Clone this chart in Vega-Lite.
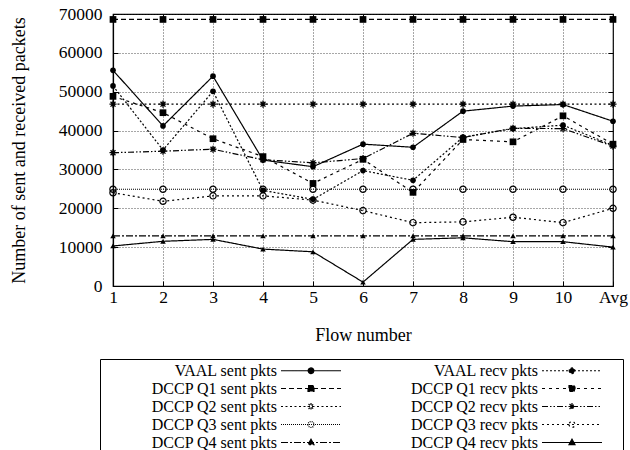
{
  "$schema": "https://vega.github.io/schema/vega-lite/v6.json",
  "width": 500,
  "height": 272,
  "autosize": "none",
  "padding": {"left": 113, "top": 14, "right": 17, "bottom": 164},
  "background": "white",
  "config": {
    "font": "Liberation Serif",
    "view": {"stroke": "black", "strokeWidth": 1.2},
    "axis": {
      "labelFont": "Liberation Serif", "labelFontSize": 17.5, "labelColor": "black",
      "titleFont": "Liberation Serif", "titleFontSize": 18, "titleFontWeight": "normal", "titleColor": "black",
      "domainColor": "black", "domainWidth": 1.2, "tickColor": "black", "tickWidth": 1,
      "gridColor": "#222", "gridDash": [1, 2], "gridWidth": 0.8, "gridOpacity": 1
    },
    "legend": {
      "padding": 2, "strokeColor": "black", "strokeWidth": 1,
      "rowPadding": 0, "columnPadding": 1,
      "symbolStrokeWidth": 1.2, "symbolStrokeColor": "black",
      "labelFont": "Liberation Serif", "labelFontSize": 16, "labelColor": "black",
      "labelLimit": 0, "labelAlign": "right"
    }
  },
  "resolve": {"axis": {"x": "independent", "y": "independent"}},
  "data": {
    "values": [
      {"flow": "1", "VAAL sent pkts": 55500, "VAAL recv pkts": 51500, "DCCP Q1 sent pkts": 68600, "DCCP Q1 recv pkts": 48800, "DCCP Q2 sent pkts": 46800, "DCCP Q2 recv pkts": 34300, "DCCP Q3 sent pkts": 24900, "DCCP Q3 recv pkts": 24000, "DCCP Q4 sent pkts": 12900, "DCCP Q4 recv pkts": 10300},
      {"flow": "2", "VAAL sent pkts": 41200, "VAAL recv pkts": 35000, "DCCP Q1 sent pkts": 68600, "DCCP Q1 recv pkts": 44600, "DCCP Q2 sent pkts": 46800, "DCCP Q2 recv pkts": 34700, "DCCP Q3 sent pkts": 24900, "DCCP Q3 recv pkts": 21800, "DCCP Q4 sent pkts": 12900, "DCCP Q4 recv pkts": 11500},
      {"flow": "3", "VAAL sent pkts": 54000, "VAAL recv pkts": 50100, "DCCP Q1 sent pkts": 68600, "DCCP Q1 recv pkts": 37900, "DCCP Q2 sent pkts": 46800, "DCCP Q2 recv pkts": 35200, "DCCP Q3 sent pkts": 24900, "DCCP Q3 recv pkts": 23200, "DCCP Q4 sent pkts": 12900, "DCCP Q4 recv pkts": 12000},
      {"flow": "4", "VAAL sent pkts": 32400, "VAAL recv pkts": 24600, "DCCP Q1 sent pkts": 68600, "DCCP Q1 recv pkts": 33300, "DCCP Q2 sent pkts": 46800, "DCCP Q2 recv pkts": 32500, "DCCP Q3 sent pkts": 24900, "DCCP Q3 recv pkts": 23200, "DCCP Q4 sent pkts": 12900, "DCCP Q4 recv pkts": 9500},
      {"flow": "5", "VAAL sent pkts": 30700, "VAAL recv pkts": 22300, "DCCP Q1 sent pkts": 68600, "DCCP Q1 recv pkts": 26400, "DCCP Q2 sent pkts": 46800, "DCCP Q2 recv pkts": 31700, "DCCP Q3 sent pkts": 24900, "DCCP Q3 recv pkts": 22100, "DCCP Q4 sent pkts": 12900, "DCCP Q4 recv pkts": 8800},
      {"flow": "6", "VAAL sent pkts": 36500, "VAAL recv pkts": 29700, "DCCP Q1 sent pkts": 68600, "DCCP Q1 recv pkts": 32600, "DCCP Q2 sent pkts": 46800, "DCCP Q2 recv pkts": 32800, "DCCP Q3 sent pkts": 24900, "DCCP Q3 recv pkts": 19400, "DCCP Q4 sent pkts": 12900, "DCCP Q4 recv pkts": 1000},
      {"flow": "7", "VAAL sent pkts": 35700, "VAAL recv pkts": 27200, "DCCP Q1 sent pkts": 68600, "DCCP Q1 recv pkts": 24100, "DCCP Q2 sent pkts": 46800, "DCCP Q2 recv pkts": 39300, "DCCP Q3 sent pkts": 24900, "DCCP Q3 recv pkts": 16300, "DCCP Q4 sent pkts": 12900, "DCCP Q4 recv pkts": 12000},
      {"flow": "8", "VAAL sent pkts": 45000, "VAAL recv pkts": 38300, "DCCP Q1 sent pkts": 68600, "DCCP Q1 recv pkts": 37700, "DCCP Q2 sent pkts": 46800, "DCCP Q2 recv pkts": 38200, "DCCP Q3 sent pkts": 24900, "DCCP Q3 recv pkts": 16500, "DCCP Q4 sent pkts": 12900, "DCCP Q4 recv pkts": 12400},
      {"flow": "9", "VAAL sent pkts": 46300, "VAAL recv pkts": 40500, "DCCP Q1 sent pkts": 68600, "DCCP Q1 recv pkts": 37100, "DCCP Q2 sent pkts": 46800, "DCCP Q2 recv pkts": 40600, "DCCP Q3 sent pkts": 24900, "DCCP Q3 recv pkts": 17700, "DCCP Q4 sent pkts": 12900, "DCCP Q4 recv pkts": 11400},
      {"flow": "10", "VAAL sent pkts": 46700, "VAAL recv pkts": 41400, "DCCP Q1 sent pkts": 68600, "DCCP Q1 recv pkts": 43800, "DCCP Q2 sent pkts": 46800, "DCCP Q2 recv pkts": 40500, "DCCP Q3 sent pkts": 24900, "DCCP Q3 recv pkts": 16300, "DCCP Q4 sent pkts": 12900, "DCCP Q4 recv pkts": 11400},
      {"flow": "Avg", "VAAL sent pkts": 42400, "VAAL recv pkts": 36200, "DCCP Q1 sent pkts": 68600, "DCCP Q1 recv pkts": 36500, "DCCP Q2 sent pkts": 46800, "DCCP Q2 recv pkts": 36000, "DCCP Q3 sent pkts": 24900, "DCCP Q3 recv pkts": 20000, "DCCP Q4 sent pkts": 12900, "DCCP Q4 recv pkts": 10000}
    ]
  },
  "transform": [
    {"fold": ["VAAL sent pkts", "VAAL recv pkts", "DCCP Q1 sent pkts", "DCCP Q1 recv pkts", "DCCP Q2 sent pkts", "DCCP Q2 recv pkts", "DCCP Q3 sent pkts", "DCCP Q3 recv pkts", "DCCP Q4 sent pkts", "DCCP Q4 recv pkts"], "as": ["series", "value"]}
  ],
  "encoding": {
    "x": {
      "field": "flow", "type": "ordinal",
      "scale": {"type": "point", "padding": 0, "domain": ["1", "2", "3", "4", "5", "6", "7", "8", "9", "10", "Avg"]},
      "axis": null
    },
    "y": {
      "field": "value", "type": "quantitative",
      "scale": {"domain": [0, 70000], "nice": false, "zero": true},
      "axis": null
    }
  },
  "layer": [
    {
      "mark": {"type": "line", "color": "black", "strokeWidth": 1.2},
      "encoding": {
        "x": {
          "field": "flow", "type": "ordinal",
          "axis": {"orient": "bottom", "title": "Flow number", "labelAngle": 0, "grid": true, "tickSize": -5, "labelPadding": 7, "titlePadding": 21}
        },
        "y": {
          "field": "value", "type": "quantitative",
          "axis": {"orient": "left", "title": "Number of sent and received packets", "values": [0, 10000, 20000, 30000, 40000, 50000, 60000, 70000], "format": "d", "grid": true, "tickSize": -5, "labelPadding": 16, "titlePadding": 30}
        },
        "strokeDash": {
          "field": "series", "type": "nominal",
          "legend": {"title": null, "orient": "none", "legendX": -13, "legendY": 345, "columns": 2, "symbolSize": 289, "symbolOffset": 199.5, "labelOffset": -43.5, "encode": {"symbols": {"update": {"stroke": {"value": "black"}, "strokeWidth": {"value": 1.2}}}}},
          "scale": {
            "domain": ["VAAL sent pkts", "DCCP Q1 sent pkts", "DCCP Q2 sent pkts", "DCCP Q3 sent pkts", "DCCP Q4 sent pkts", "VAAL recv pkts", "DCCP Q1 recv pkts", "DCCP Q2 recv pkts", "DCCP Q3 recv pkts", "DCCP Q4 recv pkts"],
            "range": [[1, 0], [5, 3], [2, 2.5], [1, 1], [7, 2, 2, 2], [2, 2], [3, 4], [6, 2, 1.5, 2, 1.5, 2], [2, 3], [1, 0]]
          }
        }
      }
    },
    {
      "transform": [{"filter": {"field": "series", "oneOf": ["VAAL sent pkts", "VAAL recv pkts"]}}],
      "mark": {"type": "point", "shape": "circle", "filled": true, "color": "black", "size": 32, "opacity": 1}
    },
    {
      "transform": [{"filter": {"field": "series", "oneOf": ["DCCP Q1 sent pkts", "DCCP Q1 recv pkts"]}}],
      "mark": {"type": "point", "shape": "square", "filled": true, "color": "black", "size": 45, "opacity": 1}
    },
    {
      "transform": [{"filter": {"field": "series", "oneOf": ["DCCP Q2 sent pkts", "DCCP Q2 recv pkts"]}}],
      "mark": {"type": "point", "shape": "M-1,0H1M0,-1V1M-0.7,-0.7L0.7,0.7M-0.7,0.7L0.7,-0.7", "filled": false, "stroke": "black", "strokeWidth": 1.3, "size": 50, "opacity": 1}
    },
    {
      "transform": [{"filter": {"field": "series", "oneOf": ["DCCP Q3 sent pkts", "DCCP Q3 recv pkts"]}}],
      "mark": {"type": "point", "shape": "circle", "filled": false, "stroke": "black", "strokeWidth": 1.2, "size": 40, "opacity": 1}
    },
    {
      "transform": [{"filter": {"field": "series", "oneOf": ["DCCP Q4 sent pkts", "DCCP Q4 recv pkts"]}}],
      "mark": {"type": "point", "shape": "triangle-up", "filled": true, "color": "black", "size": 30, "opacity": 1}
    },
    {
      "transform": [{"filter": {"field": "value", "lt": 0}}],
      "mark": {"type": "point", "filled": true, "stroke": "black", "strokeWidth": 1.2, "opacity": 1},
      "encoding": {
        "x": {
          "field": "flow", "type": "ordinal",
          "axis": {"orient": "top", "title": null, "labels": false, "grid": false, "domain": false, "tickSize": -5}
        },
        "y": {
          "field": "value", "type": "quantitative",
          "axis": {"orient": "right", "title": null, "labels": false, "grid": false, "domain": false, "tickSize": -5, "values": [0, 10000, 20000, 30000, 40000, 50000, 60000, 70000]}
        },
        "shape": {
          "field": "series", "type": "nominal",
          "legend": {"title": null, "orient": "none", "legendX": -13, "legendY": 345, "columns": 2, "symbolSize": 289, "symbolOffset": 199.5, "labelOffset": -43.5, "encode": {"symbols": {"update": {"stroke": {"value": "black"}, "strokeWidth": {"value": 1.2}}}}},
          "scale": {
            "domain": ["VAAL sent pkts", "DCCP Q1 sent pkts", "DCCP Q2 sent pkts", "DCCP Q3 sent pkts", "DCCP Q4 sent pkts", "VAAL recv pkts", "DCCP Q1 recv pkts", "DCCP Q2 recv pkts", "DCCP Q3 recv pkts", "DCCP Q4 recv pkts"],
            "range": [
              "M-24.47,0M5.41,0M-3.53,0H3.53M-0.33,0A0.33,0.33,0,1,0,0.33,0A0.33,0.33,0,1,0,-0.33,0Z",
              "M-24.47,0M5.41,0M-3.53,0H3.53M-0.35,-0.35H0.35V0.35H-0.35Z",
              "M-24.47,0M5.41,0M-3.53,0H3.53M-0.41,0H0.41M0,-0.41V0.41M-0.29,-0.29L0.29,0.29M-0.29,0.29L0.29,-0.29",
              "M-24.47,0M5.41,0M-3.53,0H3.53M-0.35,0A0.35,0.35,0,1,0,0.35,0A0.35,0.35,0,1,0,-0.35,0Z",
              "M-24.47,0M5.41,0M-3.53,0H3.53M0,-0.39L0.35,0.24H-0.35Z",
              "M-24.47,0M5.41,0M-3.53,0H3.53M-0.33,0A0.33,0.33,0,1,0,0.33,0A0.33,0.33,0,1,0,-0.33,0Z",
              "M-24.47,0M5.41,0M-3.53,0H3.53M-0.35,-0.35H0.35V0.35H-0.35Z",
              "M-24.47,0M5.41,0M-3.53,0H3.53M-0.41,0H0.41M0,-0.41V0.41M-0.29,-0.29L0.29,0.29M-0.29,0.29L0.29,-0.29",
              "M-24.47,0M5.41,0M-3.53,0H3.53M-0.35,0A0.35,0.35,0,1,0,0.35,0A0.35,0.35,0,1,0,-0.35,0Z",
              "M-24.47,0M5.41,0M-3.53,0H3.53M0,-0.39L0.35,0.24H-0.35Z"
            ]
          }
        },
        "fill": {
          "field": "series", "type": "nominal",
          "legend": {"title": null, "orient": "none", "legendX": -13, "legendY": 345, "columns": 2, "symbolSize": 289, "symbolOffset": 199.5, "labelOffset": -43.5, "encode": {"symbols": {"update": {"stroke": {"value": "black"}, "strokeWidth": {"value": 1.2}}}}},
          "scale": {
            "domain": ["VAAL sent pkts", "DCCP Q1 sent pkts", "DCCP Q2 sent pkts", "DCCP Q3 sent pkts", "DCCP Q4 sent pkts", "VAAL recv pkts", "DCCP Q1 recv pkts", "DCCP Q2 recv pkts", "DCCP Q3 recv pkts", "DCCP Q4 recv pkts"],
            "range": ["black", "black", "black", "transparent", "black", "black", "black", "black", "transparent", "black"]
          }
        },
        "strokeDash": {
          "field": "series", "type": "nominal",
          "legend": {"title": null, "orient": "none", "legendX": -13, "legendY": 345, "columns": 2, "symbolSize": 289, "symbolOffset": 199.5, "labelOffset": -43.5, "encode": {"symbols": {"update": {"stroke": {"value": "black"}, "strokeWidth": {"value": 1.2}}}}},
          "scale": {
            "domain": ["VAAL sent pkts", "DCCP Q1 sent pkts", "DCCP Q2 sent pkts", "DCCP Q3 sent pkts", "DCCP Q4 sent pkts", "VAAL recv pkts", "DCCP Q1 recv pkts", "DCCP Q2 recv pkts", "DCCP Q3 recv pkts", "DCCP Q4 recv pkts"],
            "range": [[1, 0], [5, 3], [2, 2.5], [1, 1], [7, 2, 2, 2], [2, 2], [3, 4], [6, 2, 1.5, 2, 1.5, 2], [2, 3], [1, 0]]
          }
        }
      }
    }
  ]
}
